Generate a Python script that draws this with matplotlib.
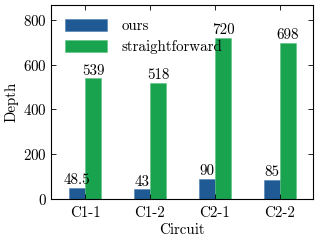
import numpy as np
import matplotlib
matplotlib.use("Agg")
import matplotlib.pyplot as plt

# Computer Modern look without LaTeX
plt.rcParams['font.family'] = 'serif'
plt.rcParams['font.serif'] = ['cmr10']
plt.rcParams['mathtext.fontset'] = 'cm'
plt.rcParams['axes.formatter.use_mathtext'] = True
plt.rcParams['font.size'] = 10.8

circuits = ['C1-1', 'C1-2', 'C2-1', 'C2-2']
ours = [48.5, 43, 90, 85]
straightforward = [539, 518, 720, 698]
ours_labels = ['48.5', '43', '90', '85']
straight_labels = ['539', '518', '720', '698']

blue = '#1f5a94'
green = '#1aa34e'

fig, ax = plt.subplots(figsize=(3.18, 2.42), dpi=100)
fig.subplots_adjust(left=0.161, right=0.984, top=0.979, bottom=0.178)

x = np.arange(len(circuits))
w = 0.25
b1 = ax.bar(x - w / 2, ours, w, color=blue, edgecolor='#4a7fb0', linewidth=0.4, label='ours')
b2 = ax.bar(x + w / 2, straightforward, w, color=green, edgecolor='#5cc07f', linewidth=0.4,
            label='straightforward')
ax.bar_label(b1, labels=ours_labels, padding=0.5)
ax.bar_label(b2, labels=straight_labels, padding=0.5)

ax.set_xticks(x)
ax.set_xticklabels(circuits)
ax.set_xlim(-0.52, 3.51)
ax.set_ylim(0, 866)
ax.set_yticks([0, 200, 400, 600, 800])
ax.set_xlabel('Circuit', labelpad=2)
ax.set_ylabel('Depth', labelpad=3)

ax.tick_params(direction='in', top=True, right=True, length=3.5, width=0.6, pad=3)
ax.tick_params(axis='x', pad=5.5)
for s in ax.spines.values():
    s.set_linewidth(0.8)

ax.legend(loc='upper left', frameon=False, handlelength=2.8, handleheight=0.9,
          borderaxespad=0.5, labelspacing=0.45, handletextpad=1.0)

fig.savefig('out.png', dpi=100)
plt.close(fig)
